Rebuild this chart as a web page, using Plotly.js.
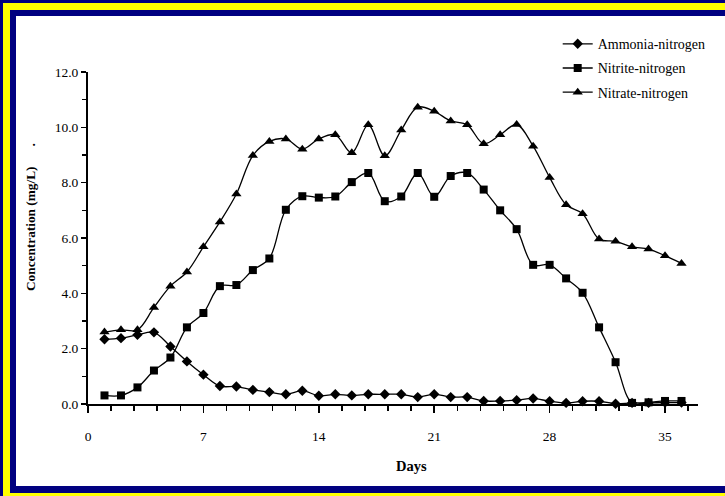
<!DOCTYPE html>
<html>
<head>
<meta charset="utf-8">
<script src="https://cdn.plot.ly/plotly-3.0.1.min.js"></script>
<style>
  html, body { margin:0; padding:0; background:#ffffff; overflow:hidden; }
  #chart { position:absolute; left:0; top:0; width:725px; height:496px; }
</style>
</head>
<body>
<div id="chart"></div>
<script>
const days = [1,2,3,4,5,6,7,8,9,10,11,12,13,14,15,16,17,18,19,20,21,22,23,24,25,26,27,28,29,30,31,32,33,34,35,36];
const ammonia = [2.34,2.38,2.50,2.59,2.08,1.54,1.06,0.65,0.63,0.51,0.43,0.35,0.48,0.30,0.35,0.31,0.35,0.35,0.35,0.25,0.35,0.25,0.25,0.11,0.11,0.14,0.20,0.10,0.04,0.10,0.10,0.01,0.04,0.04,0.05,0.05];
const nitrite = [0.31,0.31,0.60,1.21,1.68,2.77,3.29,4.26,4.30,4.84,5.26,7.02,7.51,7.46,7.50,8.02,8.35,7.33,7.50,8.35,7.49,8.24,8.35,7.75,7.00,6.32,5.03,5.03,4.54,4.02,2.77,1.51,0.04,0.06,0.11,0.11];
const nitrate = [2.60,2.68,2.68,3.49,4.26,4.77,5.68,6.58,7.59,8.98,9.49,9.58,9.21,9.58,9.73,9.08,10.09,8.97,9.90,10.73,10.58,10.23,10.09,9.41,9.73,10.10,9.32,8.19,7.20,6.88,5.96,5.88,5.68,5.60,5.36,5.08];
const seriesNames = ["Ammonia-nitrogen","Nitrite-nitrogen","Nitrate-nitrogen"];
const xTickVals = [0,7,14,21,28,35];
const yTickVals = [0,2,4,6,8,10,12];
const yTitle = "Concentration (mg/L)";
const xTitle = "Days";

const serif = "Liberation Serif, Times New Roman, serif";
const NAVY = "#000080", YELLOW = "#ffff00";
function trace(y, name, symbol, size, grp) {
  return {
    x: days, y: y, name: name, type: "scatter", mode: "lines+markers",
    legendgroup: grp,
    line: {color: "#000000", width: 1.3, shape: "spline", smoothing: 1},
    marker: {symbol: symbol, size: size, color: "#000000", line: {width: 0}},
    cliponaxis: false
  };
}
const data = [
  trace(ammonia, seriesNames[0], "diamond", 8, "a"),
  trace(nitrite, seriesNames[1], "square", 8, "b"),
  trace(nitrate, seriesNames[2], "triangle-up", 9, "c")
];
// frame stripes given in figure pixels, converted to paper coordinates
const M = {l: 88, r: 27, t: 72, b: 92};
const W = 725, H = 496;
const PW = W - M.l - M.r, PH = H - M.t - M.b;
function px(x) { return (x - M.l) / PW; }
function py(y) { return (H - M.b - y) / PH; }
function stripe(x0, y0, x1, y1, color) {
  return {type: "rect", xref: "paper", yref: "paper", layer: "below",
          x0: px(x0), x1: px(x1), y0: py(y0), y1: py(y1), fillcolor: color, line: {width: 0}};
}
const frame = [
  stripe(0, 0, W, 3, NAVY), stripe(3, 3, W, 10, YELLOW), stripe(10, 10, W, 16, NAVY),
  stripe(0, 0, 3, H, NAVY), stripe(3, 3, 10, H, YELLOW), stripe(10, 10, 16, 493, NAVY),
  stripe(10, 486, W, 493, NAVY), stripe(3, 493, W, H, YELLOW)
];
const layout = {
  width: W, height: H,
  margin: {l: M.l, r: M.r, t: M.t, b: M.b, pad: 0},
  paper_bgcolor: "#ffffff",
  plot_bgcolor: "rgba(0,0,0,0)",
  font: {family: serif, color: "#000000", size: 13},
  showlegend: true,
  legend: {
    x: 0.77, y: 1.132, xanchor: "left", yanchor: "top",
    bgcolor: "rgba(0,0,0,0)", borderwidth: 0,
    font: {family: serif, size: 14, color: "#000000"},
    tracegroupgap: 3, traceorder: "grouped"
  },
  shapes: frame,
  xaxis: {
    range: [0, 37], tickmode: "array", tickvals: xTickVals, ticktext: xTickVals.map(String),
    showgrid: false, zeroline: false, showline: true, linecolor: "#000000", linewidth: 2,
    ticks: "outside", ticklen: 7, tickwidth: 1.5, tickcolor: "#000000",
    ticklabelstandoff: 12,
    tickfont: {family: serif, size: 13.5, color: "#000000"},
    minor: {dtick: 1.4, tick0: 0, ticks: "outside", ticklen: 5, tickwidth: 1.5, tickcolor: "#000000", showgrid: false}
  },
  yaxis: {
    range: [0, 12], tickmode: "array", tickvals: yTickVals, ticktext: yTickVals.map(v => v.toFixed(1)),
    showgrid: false, zeroline: false, showline: true, linecolor: "#000000", linewidth: 2,
    ticks: "outside", ticklen: 5, tickwidth: 1.5, tickcolor: "#000000",
    tickfont: {family: serif, size: 13.5, color: "#000000"},
    minor: {dtick: 1, tick0: 0, ticks: "outside", ticklen: 4, tickwidth: 1.5, tickcolor: "#000000", showgrid: false}
  },
  annotations: [
    {text: "<b>" + yTitle + "\u00a0\u00a0\u00a0\u00a0\u00a0\u00a0.</b>", textangle: -90,
     xref: "paper", yref: "paper", x: px(30), y: py(217), xanchor: "center", yanchor: "middle",
     showarrow: false, font: {family: serif, size: 13.3, color: "#000000"}},
    {text: "<b>" + xTitle + "</b>",
     xref: "paper", yref: "paper", x: px(412), y: py(466), xanchor: "center", yanchor: "middle",
     showarrow: false, font: {family: serif, size: 14.5, color: "#000000"}}
  ]
};
Plotly.newPlot("chart", data, layout, {displayModeBar: false, staticPlot: true});
</script>
</body>
</html>
